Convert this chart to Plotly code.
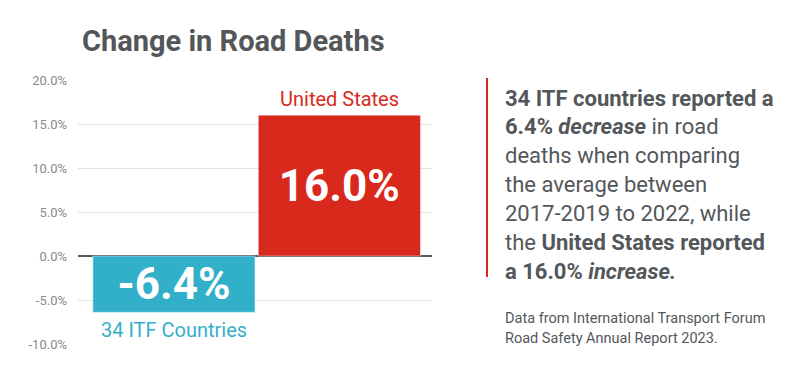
import plotly.graph_objects as go

categories = ["34 ITF Countries", "United States"]
values = [-6.4, 16.0]
value_labels = ["-6.4%", "16.0%"]
bar_colors = ["#33b0c9", "#d9291c"]
tick_vals = [-10, -5, 0, 5, 10, 15, 20]
tick_text = ["-10.0%", "-5.0%", "0.0%", "5.0%", "10.0%", "15.0%", "20.0%"]

title_text = "Change in Road Deaths"
body_lines = [
    "<b>34 ITF countries reported a</b>",
    "<b>6.4% <i>decrease</i></b> in road",
    "deaths when comparing",
    "the average between",
    "2017-2019 to 2022, while",
    "the <b>United States reported</b>",
    "<b>a 16.0% <i>increase.</i></b>",
]
source_lines = ["Data from International Transport Forum", "Road Safety Annual Report 2023."]

FONT = "Roboto"
GREY = "#53575a"

# page has an 8px body margin; work in screen pixels and convert
OFF = 8
L, R, T, B = 78 - OFF, 432 - OFF, 80 - OFF, 344 - OFF  # plot box in figure px
W, H = 800, 391


def px(sx):
    return (sx - OFF - L) / (R - L)


def py(sy):
    return (B - (sy - OFF)) / (B - T)


fig = go.Figure()
fig.add_trace(go.Bar(
    x=categories, y=values, marker_color=bar_colors, width=0.98,
    text=value_labels, textposition="inside", insidetextanchor="middle",
    textangle=0, constraintext="none",
    textfont=dict(family=FONT, size=44, color="white", weight="bold"),
    hoverinfo="skip",
))

# category labels
for c, v, col in zip(categories, values, bar_colors):
    fig.add_annotation(x=c, y=v, text=c, showarrow=False,
                       yanchor="bottom" if v > 0 else "top",
                       yshift=2 if v > 0 else -4,
                       font=dict(family=FONT, size=20, color=col))

fig.add_annotation(xref="paper", yref="paper", x=px(80), y=py(41),
                   text="<b>" + title_text + "</b>", showarrow=False,
                   xanchor="left", yanchor="middle",
                   font=dict(family=FONT, size=29, color=GREY))

# right text block
x0 = 503
for i, line in enumerate(body_lines):
    fig.add_annotation(xref="paper", yref="paper",
                       x=px(x0), y=py(98 + i * 28.9),
                       text=line, showarrow=False, xanchor="left", yanchor="middle",
                       font=dict(family=FONT, size=22, color=GREY))
for i, line in enumerate(source_lines):
    fig.add_annotation(xref="paper", yref="paper",
                       x=px(x0), y=py(318 + i * 20),
                       text=line, showarrow=False, xanchor="left", yanchor="middle",
                       font=dict(family=FONT, size=14.5, color=GREY))

fig.add_shape(type="line", xref="paper", yref="paper",
              x0=px(487), x1=px(487), y0=py(78), y1=py(277),
              line=dict(color="#d9291c", width=2))

fig.update_layout(
    width=W, height=H,
    margin=dict(l=L, r=W - R, t=T, b=H - B),
    paper_bgcolor="white", plot_bgcolor="white",
    showlegend=False,
    xaxis=dict(range=[-0.58, 1.56], showticklabels=False, showgrid=False,
               zeroline=False, showline=False, fixedrange=True),
    yaxis=dict(range=[-10, 20], tickvals=tick_vals, ticktext=tick_text,
               showgrid=True, gridcolor="#e3e3e3", gridwidth=1,
               zeroline=True, zerolinecolor="#555a5e", zerolinewidth=2,
               ticks="", ticklabelstandoff=10,
               tickfont=dict(family=FONT, size=13, color="#8a8a8a")),
)

fig.write_html("out.html")
